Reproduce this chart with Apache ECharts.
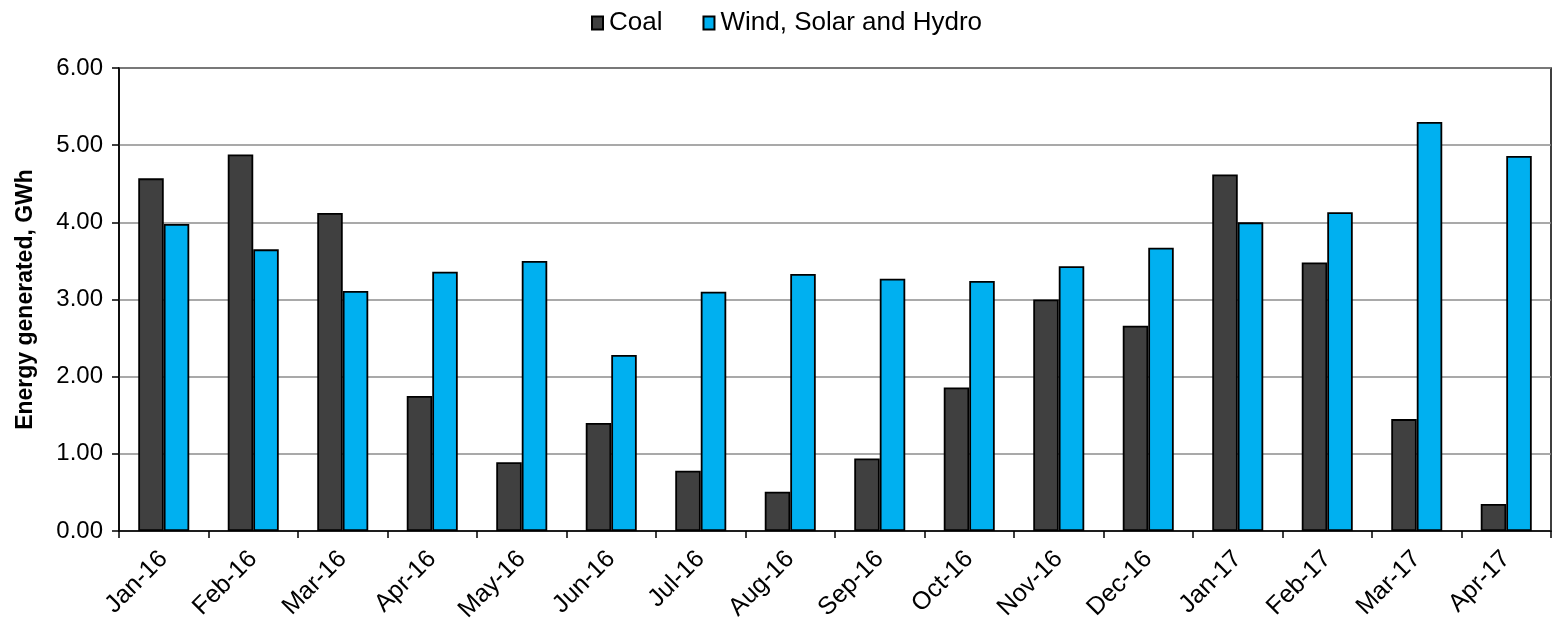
<!DOCTYPE html>
<html>
<head>
<meta charset="utf-8">
<script src="https://cdn.jsdelivr.net/npm/echarts@6/dist/echarts.min.js"></script>
<style>
html,body{margin:0;padding:0;background:#fff;}
#chart{width:1553px;height:627px;}
</style>
</head>
<body>
<div id="chart"></div>
<script>
const categories = ["Jan-16","Feb-16","Mar-16","Apr-16","May-16","Jun-16","Jul-16","Aug-16","Sep-16","Oct-16","Nov-16","Dec-16","Jan-17","Feb-17","Mar-17","Apr-17"];
const coal = [4.57,4.88,4.12,1.75,0.89,1.40,0.78,0.51,0.94,1.86,3.00,2.66,4.62,3.48,1.45,0.35];
const renewables = [3.98,3.65,3.11,3.36,3.50,2.28,3.10,3.33,3.27,3.24,3.43,3.67,4.00,4.13,5.30,4.86];
const seriesNames = ["Coal","Wind, Solar and Hydro"];
const yAxisTitle = "Energy generated, GWh";

const font = "'Liberation Sans', Arial, sans-serif";
const chart = echarts.init(document.getElementById('chart'), null, {renderer:'canvas'});
chart.setOption({
  animation:false,
  backgroundColor:'#fff',
  textStyle:{fontFamily:font},
  legend:{
    top:5, left:586,
    itemWidth:11, itemHeight:13, itemGap:40,
    textStyle:{fontSize:26, color:'#000', fontFamily:font, padding:[0,0,0,1]},
    data:seriesNames.map(n=>({name:n, icon:'rect'}))
  },
  grid:{left:119, right:2, top:68, bottom:96, show:true, borderColor:'#000', borderWidth:1.5, backgroundColor:'transparent'},
  xAxis:{
    type:'category', data:categories, boundaryGap:true,
    axisLine:{lineStyle:{color:'#000', width:1.5}},
    axisTick:{show:true, length:7, lineStyle:{color:'#000', width:1.5}, alignWithLabel:false},
    axisLabel:{rotate:45, fontSize:25, color:'#000', margin:24, fontFamily:font, interval:0},
    splitLine:{show:false}
  },
  yAxis:{
    type:'value', min:0, max:6, interval:1,
    name:yAxisTitle, nameLocation:'middle', nameGap:82, nameRotate:90,
    nameTextStyle:{fontSize:23, fontWeight:'bold', color:'#000', fontFamily:font},
    axisLine:{show:true, lineStyle:{color:'#000', width:1.5}},
    axisTick:{show:true, length:7, lineStyle:{color:'#000', width:1.5}},
    axisLabel:{fontSize:24, color:'#000', margin:16, fontFamily:font, formatter:v=>v.toFixed(2)},
    splitLine:{show:true, lineStyle:{color:'#8c8c8c', width:1.5}}
  },
  series:[
    {name:seriesNames[0], type:'bar', data:coal, barGap:'0%', barCategoryGap:'43%',
     itemStyle:{color:'#404040', borderColor:'#000', borderWidth:1.8}},
    {name:seriesNames[1], type:'bar', data:renewables, barGap:'0%', barCategoryGap:'43%',
     itemStyle:{color:'#00b0f0', borderColor:'#000', borderWidth:1.8}}
  ]
});
</script>
</body>
</html>
